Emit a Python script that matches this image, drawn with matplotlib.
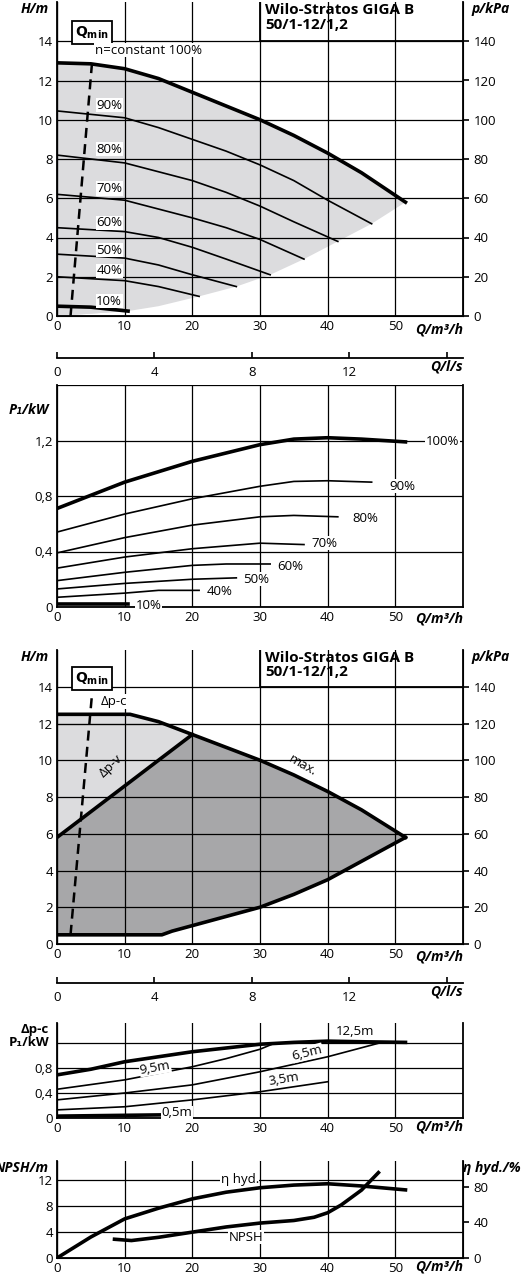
import matplotlib
matplotlib.use("Agg")
import matplotlib.pyplot as plt
import numpy as np

plt.rcParams['font.family'] = ['Open Sans', 'DejaVu Sans']
plt.rcParams['font.size'] = 9.5

# ---------- data ----------
title = "Wilo-Stratos GIGA B\n50/1-12/1,2"
q_ticks = [0, 10, 20, 30, 40, 50]
ls_ticks = [0, 4, 8, 12, 16]
ls_labels = ["0", "4", "8", "12", ""]

# panel 1: H curves by speed
h_curves = {
    "100%": ([0, 5, 10, 15, 20, 25, 30, 35, 40, 45, 51.5],
             [12.9, 12.85, 12.6, 12.1, 11.4, 10.7, 10.0, 9.2, 8.3, 7.3, 5.8]),
    "90%": ([0, 10, 15, 20, 25, 30, 35, 40, 46.5],
            [10.45, 10.1, 9.6, 9.0, 8.4, 7.7, 6.9, 5.9, 4.7]),
    "80%": ([0, 10, 20, 25, 30, 35, 41.5], [8.2, 7.8, 6.9, 6.3, 5.6, 4.8, 3.8]),
    "70%": ([0, 10, 20, 25, 30, 36.5], [6.2, 5.9, 5.0, 4.5, 3.9, 2.9]),
    "60%": ([0, 10, 15, 20, 25, 31.5], [4.5, 4.3, 4.0, 3.5, 2.9, 2.1]),
    "50%": ([0, 10, 15, 20, 26.5], [3.15, 2.95, 2.6, 2.1, 1.5]),
    "40%": ([0, 10, 15, 21], [2.0, 1.8, 1.5, 1.0]),
    "10%": ([0, 5, 10.5], [0.5, 0.45, 0.25]),
}
h_label_y = {"90%": 10.75, "80%": 8.5, "70%": 6.5, "60%": 4.75, "50%": 3.35, "40%": 2.3, "10%": 0.75}
fill_lower_q = [51.5, 46.5, 41.5, 36.5, 31.5, 26.5, 21, 15, 10.5]
fill_lower_h = [5.8, 4.7, 3.8, 2.9, 2.1, 1.5, 1.0, 0.5, 0.25]
qmin_q = [2.0, 5.2]
qmin_h = [0.0, 13.0]

# panel 2: P1 by speed
p_curves = {
    "100%": ([0, 10, 20, 30, 35, 40, 45, 51.5], [0.71, 0.9, 1.05, 1.17, 1.21, 1.22, 1.21, 1.19]),
    "90%": ([0, 10, 20, 30, 35, 40, 46.5], [0.54, 0.67, 0.78, 0.87, 0.905, 0.91, 0.9]),
    "80%": ([0, 10, 20, 30, 35, 41.5], [0.39, 0.5, 0.59, 0.65, 0.66, 0.65]),
    "70%": ([0, 10, 20, 30, 36.5], [0.28, 0.36, 0.42, 0.46, 0.45]),
    "60%": ([0, 10, 20, 25, 31.5], [0.19, 0.25, 0.3, 0.31, 0.31]),
    "50%": ([0, 10, 20, 26.5], [0.13, 0.17, 0.2, 0.21]),
    "40%": ([0, 10, 15, 21], [0.07, 0.1, 0.12, 0.12]),
    "10%": ([0, 10.5], [0.02, 0.02]),
}
p_label_pos = {"100%": (57, 1.19), "90%": (51, 0.87), "80%": (45.5, 0.64), "70%": (39.5, 0.46),
               "60%": (34.5, 0.29), "50%": (29.5, 0.2), "40%": (24, 0.11), "10%": (13.5, 0.01)}

# panel 3: control modes
max_q = [0, 10.8, 15, 20, 25, 30, 35, 40, 45, 51.5]
max_h = [12.5, 12.5, 12.1, 11.4, 10.7, 10.0, 9.2, 8.3, 7.3, 5.8]
low_q = [51.5, 45, 40, 35, 30, 25, 20, 17, 15.5, 0]
low_h = [5.8, 4.5, 3.5, 2.7, 2.0, 1.5, 1.0, 0.7, 0.5, 0.5]
dpv_q = [0, 20]
dpv_h = [5.8, 11.4]

# panel 4: P1 for dp-c
dpc_curves = {
    "12,5m": ([0, 5, 10, 20, 30, 35, 40, 45, 51.5], [0.69, 0.78, 0.9, 1.06, 1.18, 1.21, 1.23, 1.22, 1.21]),
    "9,5m": ([0, 10, 20, 25, 30, 32], [0.46, 0.61, 0.82, 0.95, 1.1, 1.19]),
    "6,5m": ([0, 10, 20, 30, 40, 48], [0.29, 0.4, 0.53, 0.74, 0.98, 1.21]),
    "3,5m": ([0, 10, 20, 30, 40], [0.13, 0.18, 0.29, 0.42, 0.58]),
    "0,5m": ([0, 15.5], [0.03, 0.05]),
}
dpc_label = {"12,5m": (44, 1.38, 0), "9,5m": (14.5, 0.8, 10), "6,5m": (37, 1.04, 14),
             "3,5m": (33.5, 0.62, 9), "0,5m": (17.7, 0.08, 0)}

# panel 5: NPSH and efficiency
npsh_q = [8.5, 11, 15, 20, 25, 30, 35, 38, 40, 42, 45, 47.5]
npsh_h = [2.9, 2.7, 3.2, 4.0, 4.8, 5.4, 5.8, 6.3, 7.0, 8.2, 10.5, 13.2]
eta_q = [0, 5, 10, 15, 20, 25, 30, 35, 40, 45, 51.5]
eta_v = [0, 23.6, 44, 56, 66.5, 74, 79, 82, 83.5, 81, 76.6]

# ---------- figure ----------
W, H = 523, 1280
fig = plt.figure(figsize=(W / 100, H / 100), dpi=100)
L, R = 57, 463
GREY_L = "#dcdcde"
GREY_D = "#a7a7a9"
LAB = dict(fontweight="bold", fontstyle="italic", fontsize=10)


def make_ax(top, bottom, ymax, yticks, ylabels):
    ax = fig.add_axes([L / W, 1 - bottom / H, (R - L) / W, (bottom - top) / H])
    ax.set_xlim(0, 60)
    ax.set_ylim(0, ymax)
    ax.set_xticks(q_ticks)
    ax.set_yticks(yticks)
    ax.set_yticklabels(ylabels)
    ax.grid(True, color="black", lw=0.9)
    ax.set_axisbelow(False)
    ax.spines["top"].set_visible(False)
    for s in ("left", "right", "bottom"):
        ax.spines[s].set_linewidth(1.3)
    ax.tick_params(length=0, pad=3)
    ax.text(1.0, -0.02, "Q/m³/h", transform=ax.transAxes, ha="right", va="top", **LAB)
    return ax


def ls_axis(y):
    ax = fig.add_axes([L / W, 1 - y / H, (R - L) / W, 0.0001])
    ax.set_xlim(0, 60 / 3.6)
    ax.set_yticks([])
    for s in ("top", "left", "right"):
        ax.spines[s].set_visible(False)
    ax.spines["bottom"].set_linewidth(1.3)
    ax.set_xticks(ls_ticks)
    ax.set_xticklabels(ls_labels)
    ax.tick_params(axis="x", direction="in", length=4, width=1.2, pad=6)
    ax.text(1.0, -14, "Q/l/s", transform=ax.transAxes, ha="right", va="top", **LAB)


def title_box(ax):
    ax.text(30.8, 15.95, title, ha="left", va="top", fontweight="bold", fontsize=11, linespacing=1.05)
    ax.plot([30, 30, 60], [16, 14, 14], color="black", lw=1.3)


def right_kpa(ax):
    r = ax.twinx()
    r.set_ylim(0, 160)
    r.set_yticks([0, 20, 40, 60, 80, 100, 120, 140])
    r.tick_params(direction="out", length=4, width=1.2)
    r.spines["top"].set_visible(False)
    r.text(1.02, 1.0, "p/kPa", transform=r.transAxes, ha="left", va="top", **LAB)


def qmin(ax, q, h):
    ax.plot(q, h, color="black", lw=1.8, ls=(0, (4, 2.5)))
    ax.text(5.2, 14.45, r"$\mathbf{Q_{min}}$", ha="center", va="center", fontsize=10,
            bbox=dict(boxstyle="square,pad=0.25", fc="white", ec="black", lw=1.3))


# panel 1
ax1 = make_ax(2, 316, 16, list(range(0, 15, 2)), [str(v) for v in range(0, 15, 2)])
q100, h100 = h_curves["100%"]
ax1.fill(list(q100) + fill_lower_q + [0], list(h100) + fill_lower_h + [0], color=GREY_L, lw=0, zorder=1)
ax1.fill([0, 0, 10.5], [0, 0.5, 0.25], color=GREY_L, lw=0, zorder=1)
for k, (q, h) in h_curves.items():
    lw = 2.6 if k in ("100%", "10%") else 1.2
    ax1.plot(q, h, color="black", lw=lw, zorder=3)
    if k in h_label_y:
        ax1.text(5.8, h_label_y[k], k, ha="left", va="center", zorder=4,
                 bbox=dict(fc="white", ec="none", pad=0.5))
ax1.text(5.6, 13.55, "n=constant 100%", ha="left", va="center", zorder=4,
         bbox=dict(fc="white", ec="none", pad=0.5))
qmin(ax1, qmin_q, qmin_h)
title_box(ax1)
right_kpa(ax1)
ax1.text(-0.02, 1.0, "H/m", transform=ax1.transAxes, ha="right", va="top", **LAB)
ls_axis(358)

# panel 2
ax2 = make_ax(385, 607, 1.6, [0, 0.4, 0.8, 1.2, 1.6], ["0", "0,4", "0,8", "1,2", ""])
for k, (q, p) in p_curves.items():
    lw = 2.6 if k in ("100%", "10%") else 1.2
    ax2.plot(q, p, color="black", lw=lw, zorder=3)
    x, y = p_label_pos[k]
    ax2.text(x, y, k, ha="center", va="center", zorder=4, bbox=dict(fc="white", ec="none", pad=0.5))
ax2.text(-0.02, 0.92, "P₁/kW", transform=ax2.transAxes, ha="right", va="top", **LAB)

# panel 3
ax3 = make_ax(650, 944, 16, list(range(0, 15, 2)), [str(v) for v in range(0, 15, 2)])
ax3.fill([0, 0, 10.8, 15, 20], [5.8, 12.5, 12.5, 12.1, 11.4], color=GREY_L, lw=0, zorder=1)
ax3.fill([0] + dpv_q + max_q[3:] + low_q, [0.5] + dpv_h + max_h[3:] + low_h, color=GREY_D, lw=0, zorder=1)
ax3.plot([0, 19], [12.0, 12.0], color="black", lw=0.8, zorder=2)
ax3.plot(max_q, max_h, color="black", lw=2.6, zorder=3)
ax3.plot(low_q, low_h, color="black", lw=2.6, zorder=3)
ax3.plot(dpv_q, dpv_h, color="black", lw=2.6, zorder=3)
ax3.text(6.4, 13.2, "Δp-c", ha="left", va="center", zorder=4, bbox=dict(fc="white", ec="none", pad=0.5))
ax3.text(8.0, 9.7, "Δp-v", ha="center", va="center", rotation=44, zorder=4)
ax3.text(36.3, 9.7, "max.", ha="center", va="center", rotation=-30, zorder=4)
qmin(ax3, [2.0, 5.2], [0.5, 13.7])
title_box(ax3)
right_kpa(ax3)
ax3.text(-0.02, 1.0, "H/m", transform=ax3.transAxes, ha="right", va="top", **LAB)
ls_axis(983)

# panel 4
ax4 = make_ax(1023, 1118, 1.52, [0, 0.4, 0.8, 1.2], ["0", "0,4", "0,8", ""])
for k, (q, p) in dpc_curves.items():
    lw = 2.6 if k in ("12,5m", "0,5m") else 1.2
    ax4.plot(q, p, color="black", lw=lw, zorder=3)
    x, y, rot = dpc_label[k]
    ax4.text(x, y, k, ha="center", va="center", rotation=rot, zorder=4,
             bbox=dict(fc="white", ec="none", pad=0.3))
ax4.text(-0.02, 1.0, "Δp-c\nP₁/kW", transform=ax4.transAxes, ha="right", va="top",
         fontweight="bold", fontsize=9.5, linespacing=1.05)

# panel 5
ax5 = make_ax(1161, 1258, 15, [0, 4, 8, 12], ["0", "4", "8", "12"])
ax5.plot(npsh_q, npsh_h, color="black", lw=2.6, zorder=3)
r5 = ax5.twinx()
r5.set_ylim(0, 15 * 40 / 5.5)
r5.set_yticks([0, 40, 80])
r5.tick_params(direction="out", length=4, width=1.2)
r5.spines["top"].set_visible(False)
r5.plot(eta_q, eta_v, color="black", lw=2.6, zorder=3)
ax5.text(27, 12.1, "η hyd.", ha="center", va="center", zorder=4, bbox=dict(fc="white", ec="none", pad=0.5))
ax5.text(28, 3.2, "NPSH", ha="center", va="center", zorder=4, bbox=dict(fc="white", ec="none", pad=0.5))
ax5.text(-0.02, 1.0, "NPSH/m", transform=ax5.transAxes, ha="right", va="top", **LAB)
r5.text(1.0, 1.0, "η hyd./%", transform=r5.transAxes, ha="left", va="top", **LAB)

fig.savefig("out.png", dpi=100)
